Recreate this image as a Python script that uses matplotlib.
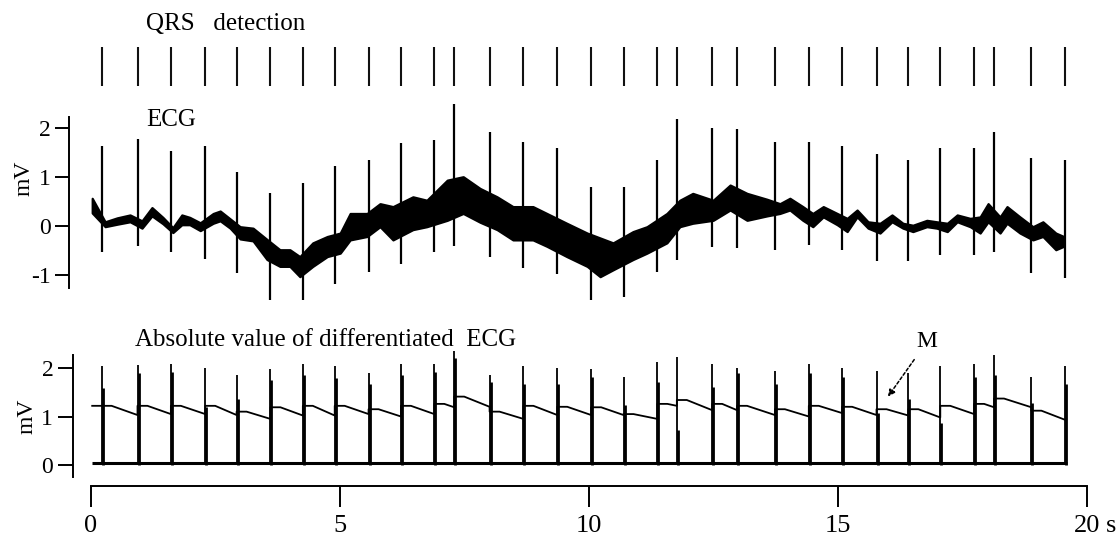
import matplotlib
matplotlib.use('Agg')
import matplotlib.pyplot as plt
import numpy as np

plt.rcParams['font.family'] = ['Liberation Serif', 'DejaVu Serif']
plt.rcParams['axes.unicode_minus'] = False

# beat times (s)
beat_t = [0.22, 0.94, 1.61, 2.30, 2.93, 3.61, 4.26, 4.90, 5.58, 6.23, 6.90,
          7.30, 8.01, 8.69, 9.37, 10.05, 10.70, 11.38, 11.77, 12.48, 12.98,
          13.74, 14.42, 15.09, 15.78, 16.42, 17.06, 17.74, 18.14, 18.89, 19.57]

# ECG: R peak and S trough of every beat (mV)
ecg_r = [1.63, 1.77, 1.52, 1.63, 1.09, 0.67, 0.87, 1.22, 1.34, 1.68, 1.75,
         2.48, 1.92, 1.70, 1.59, 0.78, 0.78, 1.34, 2.18, 2.00, 1.97,
         1.70, 1.70, 1.63, 1.46, 1.34, 1.59, 1.59, 1.92, 1.38, 1.34]
ecg_s = [-0.53, -0.41, -0.53, -0.67, -0.97, -1.52, -1.52, -1.18, -0.94, -0.78, -0.53,
         -0.41, -0.63, -0.86, -0.99, -1.52, -1.45, -0.94, -0.69, -0.43, -0.46,
         -0.50, -0.39, -0.50, -0.71, -0.71, -0.60, -0.60, -0.53, -0.97, -1.07]

# ECG baseline band (upper / lower edge, mV) between the beats
env_t = [0.03, 0.29, 0.53, 0.79, 1.03, 1.23, 1.45, 1.65, 1.83, 1.99, 2.20, 2.46,
         2.60, 2.80, 3.00, 3.26, 3.54, 3.80, 4.00, 4.20, 4.46, 4.75, 5.01, 5.21,
         5.55, 5.81, 6.07, 6.47, 6.75, 7.16, 7.48, 7.82, 8.16, 8.48, 8.88, 9.16,
         9.56, 9.97, 10.23, 10.49, 10.89, 11.17, 11.57, 11.83, 12.09, 12.50, 12.84,
         13.18, 13.58, 13.84, 14.04, 14.30, 14.50, 14.71, 14.99, 15.19, 15.39,
         15.61, 15.85, 16.09, 16.31, 16.51, 16.79, 16.99, 17.20, 17.40, 17.66,
         17.86, 18.02, 18.26, 18.40, 18.66, 18.92, 19.12, 19.38, 19.54]
env_hi = [0.56, 0.08, 0.16, 0.22, 0.10, 0.37, 0.17, -0.04, 0.22, 0.17, 0.06, 0.25,
          0.30, 0.14, -0.02, -0.05, -0.28, -0.49, -0.49, -0.63, -0.35, -0.22, -0.15, 0.25,
          0.25, 0.45, 0.39, 0.59, 0.52, 0.93, 1.00, 0.76, 0.59, 0.39, 0.39, 0.25,
          0.05, -0.15, -0.25, -0.35, -0.12, -0.02, 0.25, 0.52, 0.66, 0.52, 0.83,
          0.66, 0.54, 0.45, 0.56, 0.39, 0.25, 0.39, 0.25, 0.15, 0.32,
          0.08, 0.05, 0.22, 0.05, 0.01, 0.11, 0.08, 0.05, 0.22, 0.15,
          0.18, 0.45, 0.18, 0.39, 0.18, -0.02, 0.08, -0.15, -0.22]
env_lo = [0.26, -0.02, 0.03, 0.08, -0.05, 0.20, 0.04, -0.14, 0.02, 0.02, -0.10, 0.05,
          0.10, -0.05, -0.27, -0.31, -0.69, -0.83, -0.83, -1.04, -0.83, -0.63, -0.56, -0.29,
          -0.22, -0.02, -0.29, -0.08, -0.02, 0.11, 0.25, 0.07, -0.08, -0.29, -0.29, -0.42,
          -0.63, -0.83, -1.04, -0.90, -0.69, -0.56, -0.35, -0.02, 0.05, 0.11, 0.32,
          0.11, 0.20, 0.25, 0.32, 0.11, -0.02, 0.18, 0.02, -0.12, 0.18,
          -0.05, -0.15, 0.08, -0.05, -0.12, -0.02, -0.05, -0.12, 0.08, -0.02,
          -0.15, 0.08, -0.15, 0.05, -0.15, -0.29, -0.22, -0.49, -0.42]

# absolute value of differentiated ECG: spike top and top of its thick part (mV)
d_peak = [2.04, 2.06, 2.08, 2.01, 1.86, 1.97, 2.08, 2.05, 1.89, 2.08, 2.08,
          2.34, 1.86, 2.05, 2.01, 1.97, 1.82, 2.12, 2.23, 2.08, 2.01,
          1.94, 2.08, 2.01, 1.94, 1.90, 2.05, 2.08, 2.27, 1.82, 2.05]
d_thick = [1.58, 1.89, 1.92, 1.20, 1.37, 1.75, 1.86, 1.79, 1.68, 1.86, 1.92,
           2.20, 1.72, 1.68, 1.68, 1.82, 1.24, 1.72, 0.72, 1.61, 1.89,
           1.68, 1.89, 1.82, 1.07, 1.37, 0.86, 1.82, 1.86, 1.27, 1.68]
d_base = 0.05

# threshold M: value just after each beat and just before the next one
m_start = [1.22, 1.22, 1.22, 1.22, 1.22, 1.10, 1.19, 1.22, 1.22, 1.15, 1.22,
           1.26, 1.41, 1.10, 1.22, 1.20, 1.19, 1.05, 1.26, 1.34, 1.26,
           1.22, 1.15, 1.22, 1.20, 1.15, 1.15, 1.22, 1.26, 1.37, 1.12]
m_end = [1.22, 1.03, 1.05, 1.05, 1.03, 0.95, 1.02, 1.02, 1.05, 1.00, 1.05,
         1.19, 1.20, 0.95, 1.03, 1.03, 1.03, 0.95, 1.22, 1.13, 1.13,
         1.03, 1.00, 1.07, 1.03, 1.02, 0.98, 1.05, 1.19, 1.19, 0.93]

W, H = 1118, 538
X0 = -90.7 / 49.8
X1 = (W - 90.7) / 49.8


def fy(px):
    return 1 - px / H


def strip_axes(ax):
    for s in ['top', 'right', 'bottom']:
        ax.spines[s].set_visible(False)
    ax.set_xlim(X0, X1)
    ax.tick_params(axis='x', bottom=False, labelbottom=False)
    ax.patch.set_visible(False)


fig = plt.figure(figsize=(W / 100, H / 100), dpi=100)

# QRS detection marks
ax_q = fig.add_axes([0, fy(86), 1, 39 / H])
ax_q.set_xlim(X0, X1)
ax_q.set_ylim(0, 1)
ax_q.vlines(beat_t, 0, 1, color='#111111', lw=1.5)
ax_q.axis('off')

# ECG
ax_e = fig.add_axes([0, fy(310), 1, 215 / H])
strip_axes(ax_e)
ax_e.set_ylim(-1.720, 2.667)
ax_e.fill_between(env_t, env_lo, env_hi, color='black', lw=1.6)
ax_e.vlines(beat_t, ecg_s, ecg_r, color='black', lw=1.6)
ax_e.spines['left'].set_position(('data', -0.43))
ax_e.spines['left'].set_bounds(-1.27, 2.22)
ax_e.spines['left'].set_linewidth(1.4)
ax_e.set_yticks([-1, 0, 1, 2])
ax_e.tick_params(axis='y', direction='out', length=10, width=1.4, labelsize=17, pad=3)

# differentiated ECG with threshold M
ax_d = fig.add_axes([0, fy(480), 1, 140 / H])
strip_axes(ax_d)
ax_d.set_ylim(-0.309, 2.577)
ax_d.hlines(d_base, env_t[0], beat_t[-1] + 0.03, color='black', lw=2.2)
ax_d.vlines(beat_t, 0, d_peak, color='black', lw=1.3)
ax_d.vlines(np.array(beat_t) + 0.02, 0, d_thick, color='black', lw=2.0)

mx, my = [], []
seg_a = [env_t[0]] + beat_t[:-1]
for k in range(len(m_start)):
    ta, tb = seg_a[k], beat_t[k]
    mx += [ta, min(ta + 0.2, tb), tb]
    my += [m_start[k], m_start[k], m_end[k]]
ax_d.plot(mx, my, color='black', lw=1.3)

ax_d.spines['left'].set_position(('data', -0.361))
ax_d.spines['left'].set_bounds(-0.24, 2.27)
ax_d.spines['left'].set_linewidth(1.4)
ax_d.set_yticks([0, 1, 2])
ax_d.tick_params(axis='y', direction='out', length=11, width=1.4, labelsize=17, pad=3)

ax_d.annotate('M', xy=(16.01, 1.41), xytext=(16.79, 2.54), fontsize=17,
              ha='center', va='center',
              arrowprops=dict(arrowstyle='-|>', color='black', lw=1.1,
                              linestyle=(0, (2, 1.5)), mutation_scale=10,
                              shrinkA=4, shrinkB=0))

# time axis
ax_t = fig.add_axes([0, fy(486), 1, 0.01])
ax_t.set_xlim(X0, X1)
for s in ['top', 'right', 'left']:
    ax_t.spines[s].set_visible(False)
ax_t.patch.set_visible(False)
ax_t.set_yticks([])
ax_t.spines['bottom'].set_bounds(0, 20)
ax_t.spines['bottom'].set_linewidth(1.4)
ax_t.set_xticks([0, 5, 10, 15, 20])
ax_t.tick_params(axis='x', direction='out', length=15, width=1.4, labelsize=19, pad=6)
ax_t.annotate('s', xy=(20, 0), xycoords=('data', 'axes fraction'),
              xytext=(14, -21.1), textcoords='offset points',
              ha='left', va='top', fontsize=19)

# titles and unit labels
fig.text(146 / W, fy(30), 'QRS   detection', fontsize=18, va='baseline')
fig.text(146 / W, fy(126), 'ECG', fontsize=18, va='baseline')
fig.text(135 / W, fy(346), 'Absolute value of differentiated  ECG', fontsize=18, va='baseline')
fig.text(24.5 / W, fy(178), 'mV', rotation=90, ha='center', va='center', fontsize=17)
fig.text(27 / W, fy(416), 'mV', rotation=90, ha='center', va='center', fontsize=17)

fig.savefig('out.png', dpi=100)
